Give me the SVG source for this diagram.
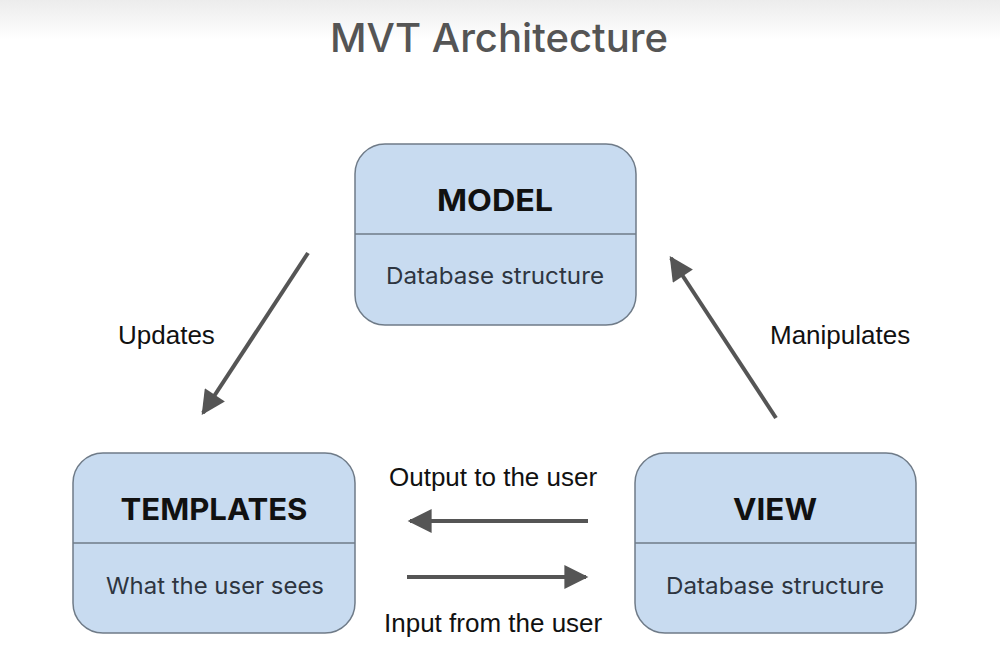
<svg xmlns="http://www.w3.org/2000/svg" width="1000" height="667" viewBox="0 0 1000 667">
<defs>
<linearGradient id="topfade" x1="0" y1="0" x2="0" y2="1">
<stop offset="0" stop-color="#ececec"/>
<stop offset="1" stop-color="#ffffff"/>
</linearGradient>
<marker id="ah" viewBox="0 0 10 10" refX="9" refY="5" markerWidth="6.5" markerHeight="6" markerUnits="strokeWidth" orient="auto">
<path d="M0,0 L10,5 L0,10 z" fill="#555"/>
</marker>
<style>
.box{fill:#c8dbf0;stroke:#6f7b88;stroke-width:1.5}
.div{stroke:#6f7b88;stroke-width:1.5}
.head{font-family:Inter,"Noto Sans",sans-serif;font-weight:700;font-size:30px;fill:#111;text-anchor:middle}
.sub{font-family:Inter,"Noto Sans",sans-serif;font-size:23px;fill:#2e3540;text-anchor:middle}
.lbl{font-family:"Liberation Sans",Arial,sans-serif;font-size:26px;fill:#111}
.title{font-family:Inter,"Noto Sans",sans-serif;font-weight:500;font-size:40px;fill:#555;text-anchor:middle}
.conn{stroke:#555;stroke-width:4;fill:none;marker-end:url(#ah)}
</style>
</defs>
<rect x="0" y="0" width="1000" height="667" fill="#fff"/>
<rect x="0" y="0" width="1000" height="40" fill="url(#topfade)"/>
<text class="title" x="499" y="52" textLength="338" lengthAdjust="spacingAndGlyphs">MVT Architecture</text>

<g id="model">
<rect class="box" x="355" y="144" width="281" height="181" rx="30"/>
<line class="div" x1="355" y1="234" x2="636" y2="234"/>
<text class="head" x="495" y="211" textLength="116" lengthAdjust="spacingAndGlyphs">MODEL</text>
<text class="sub" x="495" y="284" textLength="218" lengthAdjust="spacingAndGlyphs">Database structure</text>
</g>

<g id="templates">
<rect class="box" x="73" y="453" width="282" height="180" rx="30"/>
<line class="div" x1="73" y1="543" x2="355" y2="543"/>
<text class="head" x="214" y="520" textLength="187" lengthAdjust="spacingAndGlyphs">TEMPLATES</text>
<text class="sub" x="215" y="594" textLength="218" lengthAdjust="spacingAndGlyphs">What the user sees</text>
</g>

<g id="view">
<rect class="box" x="635" y="453" width="281" height="180" rx="30"/>
<line class="div" x1="635" y1="543" x2="916" y2="543"/>
<text class="head" x="775" y="520" textLength="84" lengthAdjust="spacingAndGlyphs">VIEW</text>
<text class="sub" x="775" y="594" textLength="218" lengthAdjust="spacingAndGlyphs">Database structure</text>
</g>

<g id="connectors">
<line class="conn" x1="308" y1="253" x2="203" y2="413"/>
<line class="conn" x1="776" y1="418" x2="671" y2="258"/>
<line class="conn" x1="588" y1="521" x2="410" y2="521"/>
<line class="conn" x1="407" y1="577" x2="586" y2="577"/>
<text class="lbl" x="118" y="344">Updates</text>
<text class="lbl" x="770" y="344">Manipulates</text>
<text class="lbl" x="389" y="486">Output to the user</text>
<text class="lbl" x="384" y="632">Input from the user</text>
</g>
</svg>
